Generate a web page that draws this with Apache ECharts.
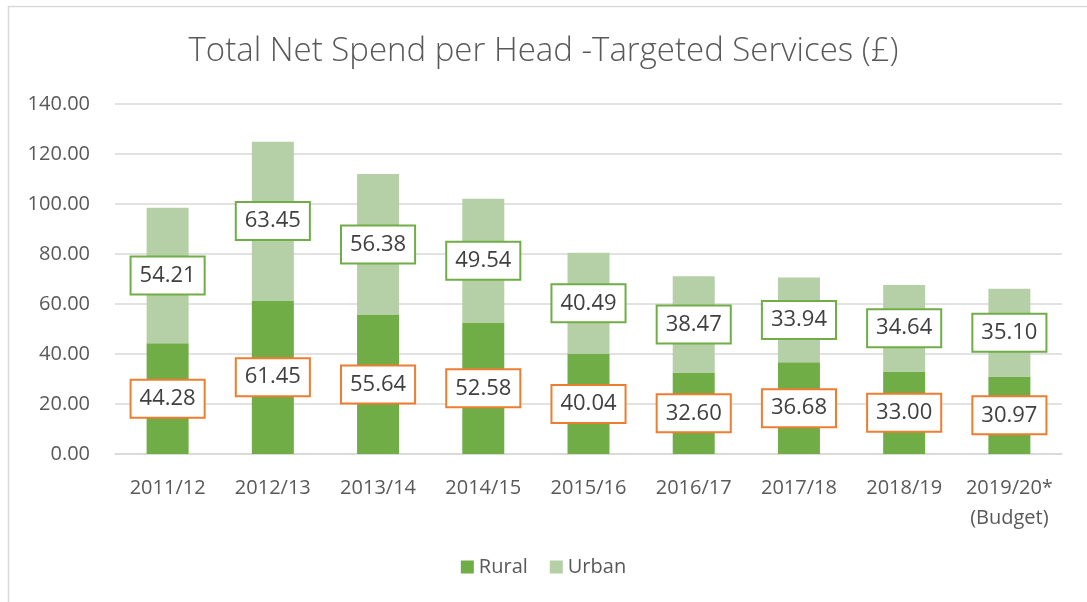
<!DOCTYPE html>
<html>
<head>
<meta charset="utf-8">
<style>
html,body{margin:0;padding:0;background:#fff;}
#chart{width:1087px;height:602px;}
</style>
<script src="https://cdn.jsdelivr.net/npm/echarts@6/dist/echarts.min.js"></script>
</head>
<body>
<div id="chart"></div>
<script>
const categories = ['2011/12','2012/13','2013/14','2014/15','2015/16','2016/17','2017/18','2018/19','2019/20*\n(Budget)'];
const rural = [44.28, 61.45, 55.64, 52.58, 40.04, 32.60, 36.68, 33.00, 30.97];
const urban = [54.21, 63.45, 56.38, 49.54, 40.49, 38.47, 33.94, 34.64, 35.10];
const yTicks = { min: 0, max: 140, interval: 20 };

const FONT = 'Open Sans';
const chart = echarts.init(document.getElementById('chart'));
function lbl(border) {
  return {
    show: true,
    position: 'inside',
    formatter: p => p.value.toFixed(2),
    color: '#404040',
    fontFamily: FONT,
    fontSize: 22,
    lineHeight: 25,
    backgroundColor: '#fff',
    borderColor: border,
    borderWidth: 2,
    padding: [6, 8, 5, 8]
  };
}
chart.setOption({
  animation: false,
  backgroundColor: '#fff',
  graphic: [{
    type: 'rect',
    shape: { x: 8.5, y: 6.5, width: 1200, height: 700 },
    style: { fill: 'none', stroke: '#D9D9D9', lineWidth: 1.5 },
    silent: true
  }],
  title: {
    text: 'Total Net Spend per Head -Targeted Services (£)',
    left: 'center',
    top: 30,
    textStyle: { fontFamily: FONT, fontWeight: 300, fontSize: 33, color: '#595959' }
  },
  legend: {
    bottom: 20,
    left: 'center',
    itemWidth: 13,
    itemHeight: 13,
    itemGap: 22,
    icon: 'rect',
    textStyle: { fontFamily: FONT, fontSize: 20, color: '#595959' },
    data: ['Rural', 'Urban']
  },
  grid: { left: 115, right: 25, top: 104, bottom: 148 },
  xAxis: {
    type: 'category',
    data: categories,
    axisTick: { show: false },
    axisLine: { lineStyle: { color: '#D9D9D9', width: 1.5 } },
    axisLabel: { interval: 0, fontFamily: FONT, fontSize: 20, color: '#595959', margin: 19, lineHeight: 30 }
  },
  yAxis: {
    type: 'value',
    min: yTicks.min, max: yTicks.max, interval: yTicks.interval,
    axisLine: { show: false },
    axisTick: { show: false },
    splitLine: { lineStyle: { color: '#D9D9D9', width: 1.5 } },
    axisLabel: { fontFamily: FONT, fontSize: 20, color: '#595959', margin: 25, formatter: v => v.toFixed(2) }
  },
  series: [
    { name: 'Rural', type: 'bar', stack: 'total', data: rural, barWidth: 42,
      itemStyle: { color: '#70AD47' }, label: lbl('#ED7D31') },
    { name: 'Urban', type: 'bar', stack: 'total', data: urban, barWidth: 42,
      itemStyle: { color: '#B5D0A7' }, label: lbl('#70AD47') }
  ]
});
</script>
</body>
</html>
